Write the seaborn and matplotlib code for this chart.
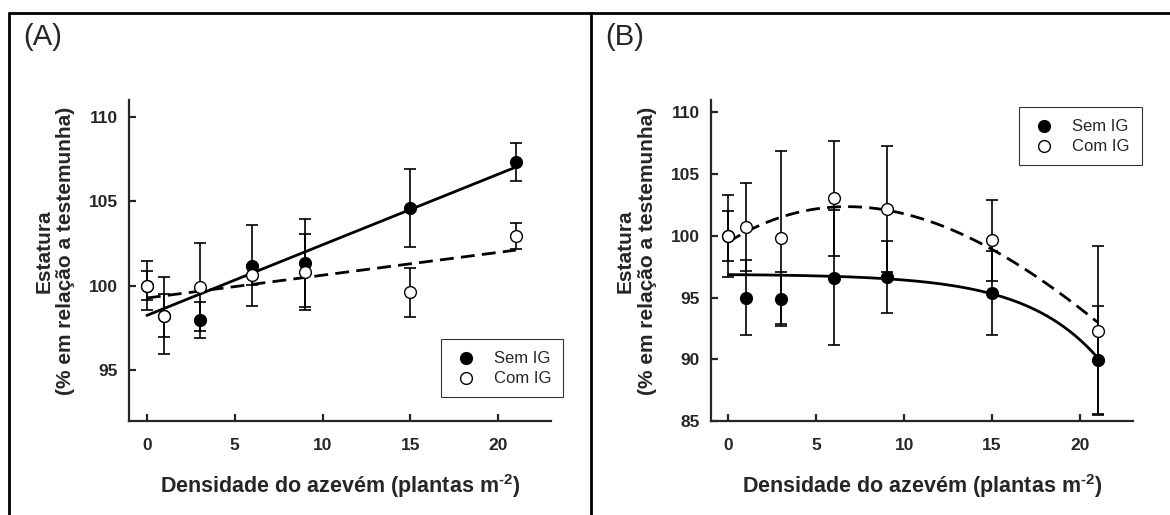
import numpy as np
import matplotlib
matplotlib.use('Agg')
import matplotlib.pyplot as plt
import seaborn as sns
from matplotlib.lines import Line2D

# densidade do azevem (plantas m-2)
dens = [0, 1, 3, 6, 9, 15, 21]

# painel A - estatura (% da testemunha) e erro
a_sem = [100.0, 98.24, 97.96, 101.2, 101.33, 104.6, 107.33]
a_sem_err = [0.85, 1.25, 1.06, 2.4, 2.6, 2.3, 1.1]
a_com = [100.0, 98.24, 99.92, 100.65, 100.82, 99.63, 102.96]
a_com_err = [1.45, 2.3, 2.6, 0.6, 2.25, 1.45, 0.77]

# painel B
b_sem = [100.0, 95.0, 94.9, 96.62, 96.68, 95.33, 89.95]
b_sem_err = [2.0, 3.05, 2.2, 5.45, 2.93, 3.4, 4.36]
b_com = [100.0, 100.71, 99.83, 103.03, 102.19, 99.64, 92.32]
b_com_err = [3.3, 3.55, 7.0, 4.68, 5.09, 3.26, 6.86]

# coeficientes das curvas ajustadas
a_sem_fit = (98.25, 0.418)          # y = a + b x
a_com_fit = (99.28, 0.135)          # y = a + b x
b_sem_fit = (96.9, 0.0438, 0.24)    # y = a - b exp(c x)
b_com_fit = (99.5, 0.8844, -0.07355, 0.000795)  # polinomio cubico

legend_labels = ['Sem IG', 'Com IG']
xlabel = 'Densidade do azevém (plantas m$^{\\text{-}2}$)'
ylabel = 'Estatura\n(% em relação a testemunha)'

sns.set_style('ticks')
plt.rcParams['font.family'] = ['Liberation Sans', 'DejaVu Sans']
plt.rcParams['mathtext.fontset'] = 'custom'
plt.rcParams['mathtext.rm'] = 'Liberation Sans:bold'
plt.rcParams['mathtext.it'] = 'Liberation Sans:bold'
plt.rcParams['mathtext.bf'] = 'Liberation Sans:bold'
plt.rcParams['mathtext.default'] = 'rm'

W, H = 1170, 515
fig = plt.figure(figsize=(W / 100, H / 100), dpi=100)

xfit = np.linspace(0, 21, 200)


def draw_panel(ax, sem, sem_err, com, com_err, sem_curve, com_curve, yticks, ylim, leg_anchor):
    ax.errorbar(dens, sem, yerr=sem_err, fmt='none', ecolor='black', elinewidth=1.2,
                capsize=4, capthick=1.2, zorder=2)
    ax.errorbar(dens, com, yerr=com_err, fmt='none', ecolor='black', elinewidth=1.2,
                capsize=4, capthick=1.2, zorder=2)
    sns.lineplot(x=xfit, y=sem_curve, ax=ax, color='black', lw=2.0, zorder=3)
    sns.lineplot(x=xfit, y=com_curve, ax=ax, color='black', lw=2.0,
                 linestyle=(0, (5, 2.6)), zorder=3)
    sns.scatterplot(x=dens, y=sem, ax=ax, color='black', edgecolor='black', s=72,
                    linewidth=1, label=legend_labels[0], zorder=4)
    sns.scatterplot(x=dens, y=com, ax=ax, color='white', edgecolor='black', s=72,
                    linewidth=1, label=legend_labels[1], zorder=5)

    ax.set_xlim(-1, 23)
    ax.set_ylim(*ylim)
    ax.set_xticks([0, 5, 10, 15, 20])
    ax.set_yticks(yticks)
    sns.despine(ax=ax)
    for s in ['left', 'bottom']:
        ax.spines[s].set_linewidth(1.6)
    ax.tick_params(direction='in', length=5, width=1.6, labelsize=12.5)
    ax.tick_params(axis='y', pad=8)
    ax.tick_params(axis='x', pad=12)
    for lab in ax.get_xticklabels() + ax.get_yticklabels():
        lab.set_fontweight('bold')
    ax.set_xlabel(xlabel, fontsize=15.5, fontweight='bold', labelpad=14)
    ax.set_ylabel(ylabel, fontsize=15, fontweight='bold')
    ax.yaxis.set_label_coords(-0.128, 0.53)

    leg = ax.legend(loc='upper left', bbox_to_anchor=leg_anchor, frameon=True, fancybox=False,
                    edgecolor='black', fontsize=12, borderpad=0.7, labelspacing=0.3,
                    handlelength=1.6, handletextpad=0.9, borderaxespad=0)
    leg.get_frame().set_linewidth(0.8)


axA = fig.add_axes([129.3 / W, 94 / H, 421.7 / W, 321 / H])
axB = fig.add_axes([710.7 / W, 94 / H, 422 / W, 321 / H])

draw_panel(axA, a_sem, a_sem_err, a_com, a_com_err,
           a_sem_fit[0] + a_sem_fit[1] * xfit,
           a_com_fit[0] + a_com_fit[1] * xfit,
           [95, 100, 105, 110], (92, 111), (0.739, 0.2555))
draw_panel(axB, b_sem, b_sem_err, b_com, b_com_err,
           b_sem_fit[0] - b_sem_fit[1] * np.exp(b_sem_fit[2] * xfit),
           b_com_fit[0] + b_com_fit[1] * xfit + b_com_fit[2] * xfit ** 2 + b_com_fit[3] * xfit ** 3,
           [85, 90, 95, 100, 105, 110], (85, 111), (0.7306, 0.978))

# moldura dos paineis
top = 1 - 13 / H
for xl in [9 / W, 591 / W]:
    fig.add_artist(Line2D([xl, xl], [0, top], transform=fig.transFigure, color='black', lw=2))
fig.add_artist(Line2D([9 / W, 1], [top, top], transform=fig.transFigure, color='black', lw=2))

fig.text(23 / W, 1 - 23 / H, '(A)', fontsize=21, va='top', ha='left')
fig.text(605 / W, 1 - 23 / H, '(B)', fontsize=21, va='top', ha='left')

fig.savefig('out.png', dpi=100)
